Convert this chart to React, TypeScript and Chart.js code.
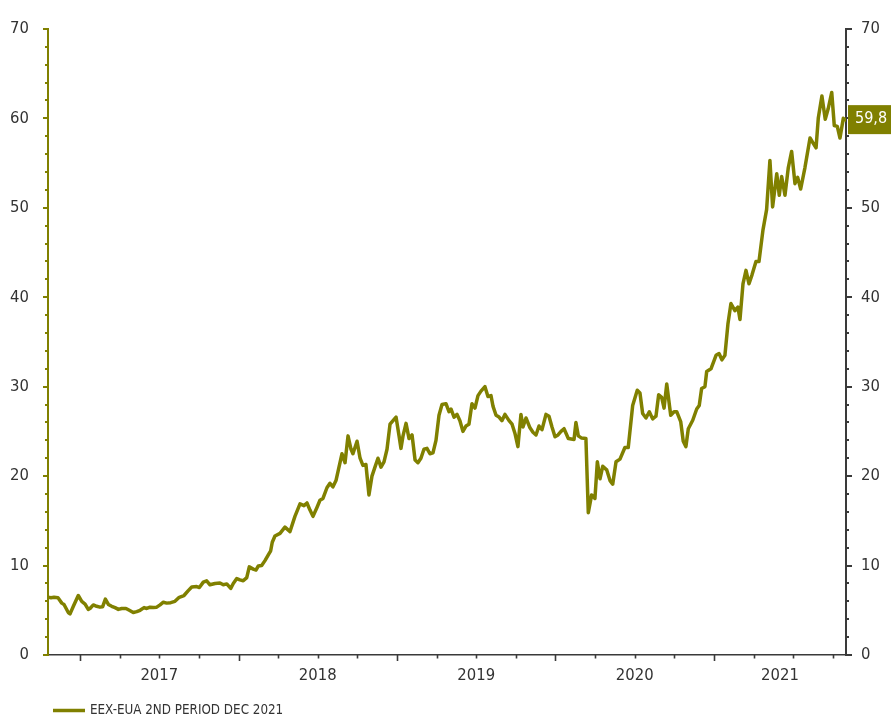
import React, { useEffect, useRef } from 'react';
import { Chart, registerables } from 'chart.js';

Chart.register(...registerables);

const seriesLabel = 'EEX-EUA 2ND PERIOD DEC 2021';

// decimal years (weekly-ish observations)
const dates = [
  2016.798, 2016.817, 2016.836, 2016.861, 2016.885, 2016.899, 2016.926, 2016.937, 2016.958, 2016.989,
  2017.011, 2017.032, 2017.052, 2017.063, 2017.084, 2017.105, 2017.126, 2017.143, 2017.160, 2017.179,
  2017.200, 2017.221, 2017.242, 2017.263, 2017.290, 2017.311, 2017.336, 2017.358, 2017.379, 2017.404,
  2017.421, 2017.442, 2017.462, 2017.484, 2017.505, 2017.526, 2017.547, 2017.572, 2017.599, 2017.626,
  2017.656, 2017.683, 2017.705, 2017.736, 2017.753, 2017.778, 2017.799, 2017.820, 2017.852, 2017.883,
  2017.904, 2017.926, 2017.951, 2017.967, 2017.989, 2018.009, 2018.030, 2018.052, 2018.068, 2018.093,
  2018.110, 2018.125, 2018.146, 2018.167, 2018.188, 2018.203, 2018.213, 2018.230, 2018.262, 2018.293,
  2018.325, 2018.356, 2018.388, 2018.413, 2018.432, 2018.451, 2018.470, 2018.495, 2018.514, 2018.533,
  2018.558, 2018.577, 2018.596, 2018.615, 2018.634, 2018.653, 2018.672, 2018.691, 2018.710, 2018.722,
  2018.748, 2018.767, 2018.785, 2018.804, 2018.823, 2018.842, 2018.861, 2018.880, 2018.899, 2018.918,
  2018.937, 2018.956, 2018.975, 2018.994, 2019.013, 2019.025, 2019.038, 2019.057, 2019.076, 2019.095,
  2019.114, 2019.132, 2019.151, 2019.170, 2019.189, 2019.208, 2019.227, 2019.246, 2019.265, 2019.284,
  2019.309, 2019.328, 2019.341, 2019.360, 2019.379, 2019.397, 2019.416, 2019.435, 2019.454, 2019.473,
  2019.492, 2019.511, 2019.530, 2019.555, 2019.574, 2019.593, 2019.606, 2019.625, 2019.644, 2019.662,
  2019.681, 2019.707, 2019.726, 2019.744, 2019.763, 2019.782, 2019.795, 2019.814, 2019.839, 2019.858,
  2019.877, 2019.896, 2019.915, 2019.940, 2019.959, 2019.978, 2019.997, 2020.016, 2020.035, 2020.054,
  2020.081, 2020.117, 2020.129, 2020.144, 2020.165, 2020.192, 2020.207, 2020.228, 2020.249, 2020.264,
  2020.281, 2020.298, 2020.323, 2020.344, 2020.361, 2020.382, 2020.407, 2020.438, 2020.459, 2020.487,
  2020.516, 2020.533, 2020.550, 2020.571, 2020.592, 2020.613, 2020.634, 2020.651, 2020.670, 2020.685,
  2020.702, 2020.727, 2020.748, 2020.765, 2020.790, 2020.806, 2020.823, 2020.838, 2020.866, 2020.891,
  2020.907, 2020.922, 2020.943, 2020.954, 2020.981, 2021.013, 2021.032, 2021.050, 2021.069, 2021.088,
  2021.107, 2021.132, 2021.151, 2021.164, 2021.183, 2021.202, 2021.221, 2021.240, 2021.265, 2021.284,
  2021.309, 2021.332, 2021.353, 2021.370, 2021.396, 2021.412, 2021.427, 2021.448, 2021.469, 2021.490,
  2021.511, 2021.528, 2021.547, 2021.574, 2021.606, 2021.644, 2021.658, 2021.681, 2021.702, 2021.721,
  2021.743, 2021.759, 2021.778, 2021.795, 2021.816, 2021.833,
];

const prices = [
  6.45, 6.4, 6.45, 6.4, 5.8, 5.65, 4.75, 4.6, 5.45, 6.65,
  6.0, 5.7, 5.1, 5.2, 5.6, 5.45, 5.35, 5.4, 6.25, 5.65,
  5.45, 5.3, 5.1, 5.2, 5.2, 5.0, 4.75, 4.85, 5.0, 5.3,
  5.2, 5.35, 5.3, 5.35, 5.6, 5.9, 5.8, 5.85, 6.0, 6.45,
  6.65, 7.2, 7.6, 7.65, 7.55, 8.15, 8.3, 7.85, 8.0, 8.05,
  7.85, 7.95, 7.45, 8.0, 8.55, 8.4, 8.3, 8.65, 9.85, 9.6,
  9.5, 9.95, 10.0, 10.55, 11.2, 11.65, 12.6, 13.3, 13.6, 14.3,
  13.8, 15.5, 16.9, 16.7, 17.0, 16.2, 15.5, 16.5, 17.3, 17.5,
  18.7, 19.2, 18.8, 19.5, 21.0, 22.5, 21.5, 24.5, 23.0, 22.5,
  23.9, 22.0, 21.2, 21.3, 17.9, 20.0, 21.0, 22.0, 21.0, 21.6,
  23.0, 25.8, 26.2, 26.6, 24.5, 23.1, 24.5, 25.9, 24.2, 24.6,
  21.8, 21.5, 22.0, 23.0, 23.1, 22.5, 22.6, 24.0, 26.8, 28.0,
  28.1, 27.2, 27.5, 26.6, 26.9, 26.2, 25.0, 25.6, 25.8, 28.1,
  27.6, 29.0, 29.5, 30.0, 28.9, 29.0, 27.8, 26.8, 26.6, 26.2,
  26.9, 26.2, 25.8, 24.8, 23.3, 26.9, 25.5, 26.5, 25.4, 24.9,
  24.6, 25.6, 25.2, 26.9, 26.7, 25.5, 24.4, 24.6, 25.0, 25.3,
  24.2, 24.1, 26.0, 24.5, 24.25, 24.2, 15.9, 17.9, 17.5, 21.6,
  19.7, 21.1, 20.7, 19.5, 19.1, 21.6, 21.9, 23.2, 23.2, 27.9,
  29.6, 29.3, 27.0, 26.5, 27.2, 26.4, 26.7, 29.1, 28.8, 27.6,
  30.3, 26.8, 27.2, 27.2, 26.1, 23.9, 23.3, 25.3, 26.25, 27.5,
  27.9, 29.8, 30.0, 31.7, 32.0, 33.5, 33.7, 33.0, 33.5, 37.0,
  39.3, 38.5, 38.9, 37.5, 41.5, 43.0, 41.5, 42.5, 44.0, 44.0,
  47.5, 49.8, 55.3, 50.1, 53.8, 51.4, 53.5, 51.4, 54.5, 56.3,
  52.7, 53.4, 52.1, 54.5, 57.8, 56.7, 60.0, 62.5, 59.9, 61.1,
  62.9, 59.2, 59.1, 57.8, 60.0, 59.8,
];

const yearLabels = ['2017', '2018', '2019', '2020', '2021'];
const yMin = 0;
const yMax = 70;
const yStep = 10;
const yMinorStep = 2;
const xMinorStep = 0.25;

const FONT = '"DejaVu Sans Condensed", "DejaVu Sans", sans-serif';
const OLIVE = '#808000';
const DARK = '#3a3a3a';
const TEXT = '#333333';

const decorPlugin = {
  id: 'decor',
  afterDraw(chart: any) {
    const ctx = chart.ctx;
    const area = chart.chartArea;
    const xs = chart.scales.x;
    const yl = chart.scales.y;
    const yr = chart.scales.y2;
    ctx.save();
    // y ticks (left olive, right dark)
    ctx.lineWidth = 2;
    for (let v = yMin; v <= yMax + 1e-9; v += yMinorStep) {
      const major = Math.abs(v % yStep) < 1e-9;
      const py = Math.round(yl.getPixelForValue(v));
      ctx.strokeStyle = OLIVE;
      ctx.beginPath();
      ctx.moveTo(area.left - (major ? 5 : 3), py);
      ctx.lineTo(area.left, py);
      ctx.stroke();
      ctx.strokeStyle = DARK;
      ctx.beginPath();
      ctx.moveTo(area.right, py);
      ctx.lineTo(area.right + (major ? 6 : 3), py);
      ctx.stroke();
    }
    // x ticks (quarters, long at year starts)
    ctx.strokeStyle = DARK;
    ctx.lineWidth = 1.6;
    const start = Math.ceil(xs.min / xMinorStep) * xMinorStep;
    for (let v = start; v <= xs.max + 1e-9; v += xMinorStep) {
      const major = Math.abs(v - Math.round(v)) < 1e-6;
      const px = Math.round(xs.getPixelForValue(v)) + 0.5;
      ctx.beginPath();
      ctx.moveTo(px, area.bottom);
      ctx.lineTo(px, area.bottom + (major ? 6 : 3.5));
      ctx.stroke();
    }
    // last value box
    const last = prices[prices.length - 1];
    const py = yr.getPixelForValue(last);
    ctx.fillStyle = OLIVE;
    ctx.fillRect(area.right + 2, py - 15, chart.width - area.right - 2, 29);
    ctx.fillStyle = '#ffffff';
    ctx.font = '16px ' + FONT;
    ctx.textAlign = 'left';
    ctx.textBaseline = 'middle';
    ctx.fillText(last.toFixed(1).replace('.', ','), area.right + 9, py - 1);
    // legend
    const ly = chart.height - 11.5;
    ctx.strokeStyle = OLIVE;
    ctx.lineWidth = 3.5;
    ctx.beginPath();
    ctx.moveTo(area.left + 5, ly);
    ctx.lineTo(area.left + 37, ly);
    ctx.stroke();
    ctx.fillStyle = TEXT;
    ctx.font = '13.3px ' + FONT;
    ctx.textBaseline = 'middle';
    ctx.fillText(seriesLabel, area.left + 42, ly);
    ctx.restore();
  },
};

export default function App() {
  const ref = useRef<HTMLCanvasElement | null>(null);
  useEffect(() => {
    if (!ref.current) return;
    const data = dates.map((d, i) => ({ x: d, y: prices[i] }));
    const xMin = dates[0];
    const xMax = dates[dates.length - 1];
    const yAxisCommon = (position: 'left' | 'right', borderColor: string, padding: number, width: number) => ({
      type: 'linear' as const,
      position,
      min: yMin,
      max: yMax,
      grid: { display: true, drawOnChartArea: false, drawTicks: false },
      border: { display: true, color: borderColor, width: 2 },
      ticks: {
        stepSize: yStep,
        padding,
        color: TEXT,
        font: { family: FONT, size: 16.5 },
      },
      afterFit: (scale: any) => {
        scale.width = width;
      },
    });
    const chart = new Chart(ref.current, {
      type: 'line',
      data: {
        datasets: [
          {
            label: seriesLabel,
            data,
            borderColor: OLIVE,
            backgroundColor: OLIVE,
            borderWidth: 3.5,
            borderJoinStyle: 'round',
            borderCapStyle: 'round',
            pointRadius: 0,
            tension: 0,
            yAxisID: 'y',
          },
        ],
      },
      options: {
        responsive: false,
        animation: false,
        maintainAspectRatio: false,
        layout: { padding: { top: 15, left: 0, right: 0, bottom: 0 } },
        plugins: {
          legend: { display: false },
          tooltip: { enabled: false },
        },
        scales: {
          x: {
            type: 'linear',
            position: 'bottom',
            min: xMin,
            max: xMax,
            grid: { display: true, drawOnChartArea: false, drawTicks: false },
            border: { display: true, color: DARK, width: 1.6 },
            ticks: {
              autoSkip: false,
              maxRotation: 0,
              padding: 11,
              color: TEXT,
              font: { family: FONT, size: 16.5 },
              callback: (_v: any, i: number) => yearLabels[i],
            },
            afterBuildTicks: (scale: any) => {
              scale.ticks = yearLabels.map((lab) => {
                const s = Math.max(Number(lab), xMin);
                const e = Math.min(Number(lab) + 1, xMax);
                return { value: (s + e) / 2 };
              });
            },
            afterFit: (scale: any) => {
              scale.height = 67;
            },
          },
          y: yAxisCommon('left', OLIVE, 19, 48),
          y2: yAxisCommon('right', DARK, 15, 45),
        },
      },
      plugins: [decorPlugin],
    });
    return () => chart.destroy();
  }, []);
  return (
    <div style={{ position: 'absolute', left: 0, top: 0, width: 891, height: 722, background: '#fff' }}>
      <canvas ref={ref} width={891} height={722} style={{ width: 891, height: 722, display: 'block' }} />
    </div>
  );
}
